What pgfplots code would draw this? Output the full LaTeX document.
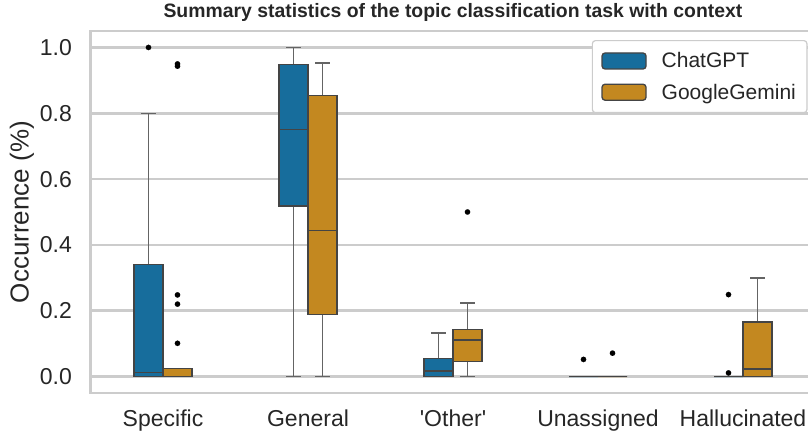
\documentclass[border=0pt]{standalone}
\usepackage{fontspec}
\setmainfont{Liberation Sans}
\usepackage{pgfplots}
\pgfplotsset{compat=1.18}
\usepgfplotslibrary{statistics}
\definecolor{cblue}{RGB}{23,109,156}
\definecolor{corange}{RGB}{195,136,32}
\definecolor{edge}{RGB}{68,68,68}
\definecolor{wedge}{RGB}{100,100,100}
\definecolor{gridc}{RGB}{204,204,204}
\definecolor{txt}{RGB}{38,38,38}
\pgfplotsset{
  bx/.style={
    forget plot, solid, draw=edge, line width=1.3pt,
    boxplot/draw direction=y,
    boxplot/box extend=0.2,
    boxplot/whisker extend=0.1,
    boxplot/every whisker/.style={draw=wedge, line width=1.5pt},
    boxplot/every median/.style={draw=edge, line width=1.5pt},
    mark=*, mark size=2.7pt, mark options={draw=black, fill=black, line width=0.1pt}
  }
}
\begin{document}
\begin{tikzpicture}
\begin{axis}[
  name=ax,
  scale only axis, width=725pt, height=362pt,
  xmin=-0.5, xmax=4.5, ymin=-0.05, ymax=1.05,
  xtick={0,1,2,3,4},
  xticklabels={Specific, General, \textquotesingle Other\textquotesingle, Unassigned, Hallucinated},
  ytick={0,0.2,0.4,0.6,0.8,1},
  yticklabels={0.0,0.2,0.4,0.6,0.8,1.0},
  ymajorgrids,
  every axis grid/.style={draw=gridc, line width=2.6pt},
  every major grid/.style={draw=gridc, line width=2.6pt},
  grid style={draw=gridc, line width=2.6pt},
  axis line style={gridc, line width=2.3pt},
  major tick length=0pt,
  tick label style={font=\fontsize{23}{27}\selectfont, text=txt},
  xticklabel style={anchor=base, yshift=-34pt, inner sep=0pt},
  yticklabel style={anchor=east, xshift=-18.5pt, inner sep=0pt},
  ylabel={Occurrence (\%)},
  ylabel style={at={(axis description cs:-0.0945,0.5)}, anchor=center, font=\fontsize{26}{30}\selectfont, text=txt},
  title={Summary statistics of the topic classification task with context},
  title style={at={(axis description cs:0.5,1)}, anchor=base, yshift=7pt, font=\fontsize{19.4}{23}\selectfont\bfseries, text=txt},
  legend style={at={(0.989,0.975)}, anchor=north east, draw=gridc, line width=1.2pt, rounded corners=3pt,
    fill=white, font=\fontsize{21}{25}\selectfont, text=txt, inner xsep=9pt, inner ysep=10pt,
    row sep=10.5pt, cells={anchor=west}},
]
\addlegendimage{legend image code/.code={\draw[fill=cblue,draw=edge,line width=1.3pt] (0pt,-8pt) rectangle (44pt,8pt);}}
\addlegendentry{\hspace{13pt}ChatGPT}
\addlegendimage{legend image code/.code={\draw[fill=corange,draw=edge,line width=1.3pt] (0pt,-8pt) rectangle (44pt,8pt);}}
\addlegendentry{\hspace{13pt}GoogleGemini}

% Specific
\addplot[bx, fill=cblue, boxplot prepared={draw position=-0.1, lower whisker=0, lower quartile=0, median=0.013, upper quartile=0.34, upper whisker=0.8}]
  table[row sep=\\, y index=0] {v\\ 1.0\\};
\addplot[bx, fill=corange, boxplot prepared={draw position=0.1, lower whisker=0, lower quartile=0, median=0, upper quartile=0.025, upper whisker=0.025}]
  table[row sep=\\, y index=0] {v\\ 0.950\\ 0.943\\ 0.248\\ 0.220\\ 0.101\\};
% General
\addplot[bx, fill=cblue, boxplot prepared={draw position=0.9, lower whisker=0, lower quartile=0.518, median=0.75, upper quartile=0.949, upper whisker=1.0}]
  coordinates {};
\addplot[bx, fill=corange, boxplot prepared={draw position=1.1, lower whisker=0, lower quartile=0.1875, median=0.444, upper quartile=0.853, upper whisker=0.952}]
  coordinates {};
% Other
\addplot[bx, fill=cblue, boxplot prepared={draw position=1.9, lower whisker=0, lower quartile=0, median=0.017, upper quartile=0.054, upper whisker=0.133}]
  coordinates {};
\addplot[bx, fill=corange, boxplot prepared={draw position=2.1, lower whisker=0, lower quartile=0.0456, median=0.1115, upper quartile=0.144, upper whisker=0.223}]
  table[row sep=\\, y index=0] {v\\ 0.5\\};
% Unassigned
\addplot[bx, fill=cblue, boxplot prepared={draw position=2.9, lower whisker=0, lower quartile=0, median=0, upper quartile=0, upper whisker=0}]
  table[row sep=\\, y index=0] {v\\ 0.052\\};
\addplot[bx, fill=corange, boxplot prepared={draw position=3.1, lower whisker=0, lower quartile=0, median=0, upper quartile=0, upper whisker=0}]
  table[row sep=\\, y index=0] {v\\ 0.071\\};
% Hallucinated
\addplot[bx, fill=cblue, boxplot prepared={draw position=3.9, lower whisker=0, lower quartile=0, median=0, upper quartile=0, upper whisker=0}]
  table[row sep=\\, y index=0] {v\\ 0.249\\ 0.011\\};
\addplot[bx, fill=corange, boxplot prepared={draw position=4.1, lower whisker=0, lower quartile=0, median=0.023, upper quartile=0.166, upper whisker=0.3}]
  coordinates {};
\end{axis}
\pgfresetboundingbox
\path[use as bounding box] ([xshift=-90.5pt,yshift=-42pt]ax.south west) rectangle ([xshift=-7.5pt,yshift=31pt]ax.north east);
\end{tikzpicture}
\end{document}
